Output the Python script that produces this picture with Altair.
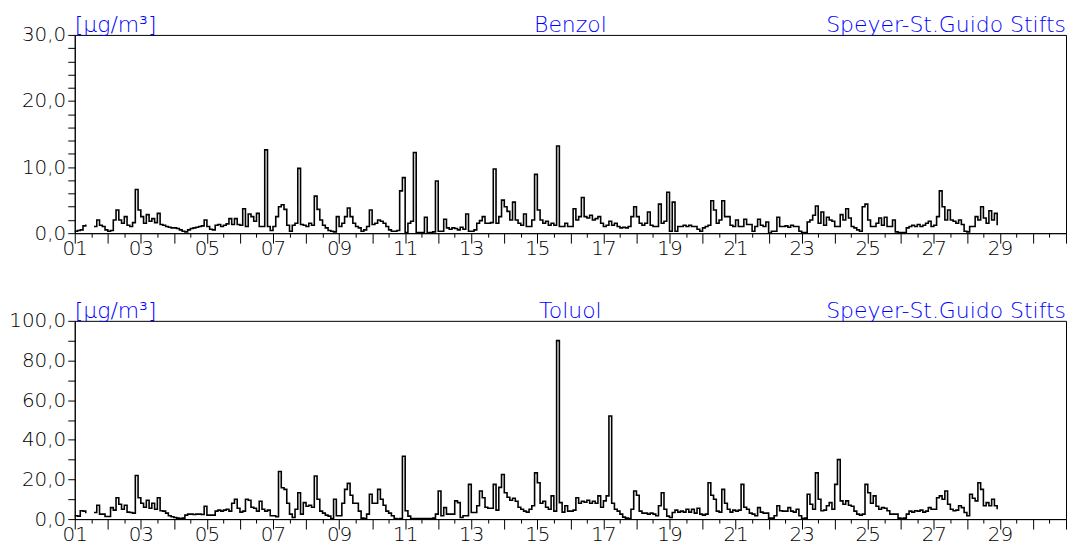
import altair as alt
import pandas as pd

# 2-hour values, 12 per day, starting on day 01 00:00 (None = missing)
STEPS_PER_DAY = 12
FIRST_DAY = 1
DAY_DOMAIN = [1, 31]

benzol = [
    0.3, 0.4, 0.5, 1.1, 1.3, None, None, 1.0, 2.0, 1.2, 1.0, 0.5,   # 01
    0.3, 0.4, 2.0, 3.5, 2.0, 1.5, 2.5, 1.2, 1.0, 1.6, 6.6, 3.5,     # 02
    2.5, 1.5, 2.8, 1.8, 2.2, 1.6, 3.0, 1.3, 1.2, 1.0, 0.9, 0.8,     # 03
    0.8, 0.7, 0.5, 0.3, 0.2, 0.5, 0.7, 0.8, 0.9, 1.0, 1.1, 2.0,     # 04
    1.0, 0.6, 0.5, 1.2, 1.3, 1.0, 1.2, 1.4, 2.2, 1.3, 2.2, 1.3,     # 05
    1.2, 3.7, 1.0, 2.9, 2.5, 1.8, 3.0, 1.0, 1.0, 12.6, 1.0, 0.4,    # 06
    1.0, 2.5, 4.0, 4.3, 3.6, 1.2, 0.3, 1.2, 1.5, 9.8, 1.3, 1.2,     # 07
    1.0, 1.5, 1.2, 5.6, 3.6, 2.0, 1.2, 0.8, 0.4, 0.3, 0.2, 2.5,     # 08
    1.0, 1.5, 2.5, 3.8, 2.5, 1.5, 1.0, 0.8, 0.3, 0.5, 1.0, 3.5,     # 09
    1.3, 1.5, 2.0, 1.8, 1.5, 1.0, 0.5, 0.3, 0.3, 0.4, 6.4, 8.4,     # 10
    0.1, 1.5, 1.8, 12.2, 0.1, 0.1, 0.1, 2.4, 0.1, 0.1, 0.2, 7.9,    # 11
    0.3, 0.3, 2.1, 0.8, 0.6, 0.8, 0.7, 0.5, 0.9, 0.6, 2.9, 0.3,     # 12
    0.3, 0.5, 1.5, 1.9, 2.5, 1.5, 1.5, 1.6, 9.7, 1.5, 2.5, 5.0,     # 13
    4.0, 3.3, 2.0, 4.7, 2.0, 1.5, 1.2, 2.9, 1.0, 1.0, 2.0, 8.9,     # 14
    3.5, 2.0, 1.5, 1.8, 1.2, 1.5, 1.2, 13.2, 1.0, 1.0, 1.5, 1.0,    # 15
    1.0, 3.7, 2.0, 2.5, 5.4, 2.5, 2.3, 2.7, 2.0, 2.2, 2.5, 1.5,     # 16
    1.0, 1.2, 1.8, 1.2, 1.5, 1.0, 0.8, 0.9, 0.8, 1.0, 2.5, 4.0,     # 17
    2.5, 1.5, 1.2, 1.5, 3.2, 1.2, 1.0, 1.0, 4.4, 1.5, 1.8, 6.2,     # 18
    0.3, 4.7, 0.3, 1.0, 1.0, 1.2, 1.0, 1.2, 1.0, 1.0, 0.6, 0.3,     # 19
    0.8, 1.0, 1.2, 4.9, 3.5, 1.5, 2.0, 4.9, 2.5, 2.5, 1.2, 1.0,     # 20
    2.0, 1.0, 1.0, 2.1, 1.3, 1.3, 0.3, 1.0, 2.1, 1.2, 1.0, 1.7,     # 21
    0.0, 0.3, 0.3, 2.4, 1.0, 1.0, 1.1, 0.9, 1.2, 1.0, 1.0, 0.3,     # 22
    0.1, 0.1, 1.7, 2.0, 2.7, 4.1, 1.5, 3.2, 1.2, 2.4, 2.0, 1.8,     # 23
    1.0, 1.0, 2.8, 2.0, 3.7, 2.3, 1.0, 0.8, 0.5, 0.3, 4.0, 4.4,     # 24
    2.0, 1.0, 1.0, 1.5, 2.3, 1.2, 2.4, 1.0, 1.0, 2.0, 0.2, 0.1,     # 25
    0.1, 0.1, 0.8, 1.0, 1.2, 1.0, 1.3, 1.0, 1.2, 1.5, 1.8, 1.0,     # 26
    1.2, 2.5, 6.4, 4.0, 2.0, 3.5, 2.0, 1.8, 1.5, 2.0, 1.3, 0.3,     # 27
    0.2, 1.0, 1.0, 2.5, 2.0, 4.0, 2.3, 1.5, 3.4, 2.0, 3.0, 1.2,     # 28
]

toluol = [
    1.7, 1.5, 4.2, 4.0, 3.0, None, None, 3.3, 7.0, 2.5, 2.5, 1.3,       # 01
    1.3, 5.8, 4.5, 10.8, 7.5, 5.0, 7.0, 3.5, 3.3, 3.0, 22.0, 10.8,      # 02
    8.0, 6.0, 9.5, 5.5, 8.0, 5.0, 10.8, 4.2, 4.0, 3.0, 1.7, 1.2,        # 03
    0.8, 0.5, 0.3, 0.5, 2.0, 2.5, 2.5, 2.3, 2.5, 2.5, 2.3, 6.5,         # 04
    2.0, 2.0, 2.0, 4.0, 4.5, 4.0, 4.5, 5.0, 4.0, 8.0, 10.0, 5.5,        # 05
    3.5, 4.0, 10.0, 9.5, 6.0, 5.5, 4.0, 9.0, 5.0, 4.0, 4.5, 1.7,        # 06
    1.7, 1.2, 24.0, 15.8, 15.0, 8.0, 2.5, 0.8, 5.0, 13.3, 2.5, 8.3,     # 07
    6.5, 7.0, 6.0, 21.7, 10.0, 4.0, 3.0, 2.0, 1.5, 0.3, 10.0, 1.7,      # 08
    1.7, 8.0, 15.0, 18.0, 12.0, 8.0, 8.0, 4.0, 0.5, 0.3, 2.5, 12.5,     # 09
    8.0, 8.0, 15.0, 10.0, 7.0, 4.0, 3.0, 1.7, 0.3, 0.0, 0.3, 31.7,      # 10
    4.2, 1.5, 0.3, 0.3, 0.3, 0.3, 0.3, 0.3, 0.3, 0.3, 0.5, 2.5,         # 11
    14.2, 1.7, 5.8, 2.5, 2.5, 2.5, 9.2, 8.3, 0.8, 1.7, 1.7, 17.5,       # 12
    3.3, 3.3, 6.7, 14.2, 10.8, 6.0, 5.5, 5.5, 17.5, 4.5, 16.0, 22.5,    # 13
    13.3, 11.0, 9.5, 10.5, 9.0, 6.0, 5.0, 4.0, 3.5, 5.0, 6.7, 23.3,     # 14
    18.3, 8.0, 9.0, 6.0, 5.0, 11.7, 4.0, 90.0, 8.3, 3.5, 6.7, 4.0,      # 15
    4.0, 4.5, 10.8, 8.0, 9.0, 8.5, 9.5, 8.0, 9.0, 8.0, 11.7, 6.0,       # 16
    9.2, 11.7, 52.0, 8.0, 5.0, 4.0, 2.5, 1.0, 0.5, 0.3, 5.0, 14.2,      # 17
    12.0, 4.0, 3.0, 3.0, 2.5, 3.0, 2.5, 1.7, 6.7, 13.3, 5.0, 1.5,       # 18
    0.8, 3.3, 4.5, 3.5, 4.0, 3.5, 5.0, 3.5, 5.0, 3.0, 5.5, 2.5,         # 19
    2.0, 2.5, 18.3, 12.0, 10.0, 4.0, 3.5, 15.0, 8.0, 5.0, 3.5, 4.5,     # 20
    4.0, 4.5, 17.5, 6.0, 5.0, 3.0, 2.5, 1.7, 5.8, 3.5, 3.0, 3.0,        # 21
    0.5, 0.5, 1.7, 6.7, 4.2, 4.0, 4.0, 5.8, 4.0, 3.5, 5.0, 1.7,         # 22
    0.3, 0.5, 12.5, 7.5, 5.0, 23.3, 10.0, 4.2, 4.5, 6.7, 8.3, 5.0,      # 23
    17.5, 30.0, 9.2, 7.5, 9.2, 7.0, 6.5, 4.0, 2.5, 2.0, 2.5, 17.5,      # 24
    13.3, 8.0, 11.7, 6.5, 5.0, 5.8, 5.5, 4.2, 2.5, 2.5, 2.5, 0.5,       # 25
    0.3, 0.5, 2.5, 4.0, 3.5, 4.2, 4.0, 4.5, 3.5, 4.0, 5.8, 5.0,         # 26
    5.0, 10.8, 11.7, 10.0, 14.2, 7.5, 5.0, 4.2, 4.5, 6.7, 5.8, 3.3,     # 27
    1.7, 12.5, 10.5, 9.2, 18.3, 15.0, 6.7, 8.3, 6.7, 10.0, 6.7, 5.0,    # 28
]

UNIT = "[µg/m³]"
STATION = "Speyer-St.Guido Stifts"
SUBSTANCES = ["Benzol", "Toluol"]
Y_MAX = [30, 100]
Y_MINOR = [2, 10]
Y_LABEL_EVERY = [10, 20]

X_TICKS = [1 + 0.5 * k for k in range(61)]

W, H = 995, 199
FONT = "DejaVu Sans"
BLUE = "#0000ff"


def panel(values, name, ymax, yminor, ylabel):
    df = pd.DataFrame({
        "t": [FIRST_DAY + i / STEPS_PER_DAY for i in range(len(values))],
        "v": values,
    })
    line = alt.Chart(df).mark_line(
        interpolate="step-after", color="black", strokeWidth=1.6,
        invalid="break-paths-filter-domains",
    ).encode(
        x=alt.X("t:Q", scale=alt.Scale(domain=DAY_DOMAIN, nice=False, zero=False),
                axis=alt.Axis(
                    values=X_TICKS, title=None, grid=False,
                    labelExpr="datum.value % 2 == 1 && datum.value < 30 ? (datum.value < 10 ? '0' : '') + datum.value : ''",
                    labelFlush=False, labelOverlap=False,
                    tickSize={"condition": {"test": "datum.value % 1 == 0", "value": 10}, "value": 4},
                    labelPadding=-5, labelFont=FONT, labelFontSize=20, labelFontWeight=300,
                    labelColor="black", domainColor="black", tickColor="black",
                )),
        y=alt.Y("v:Q", scale=alt.Scale(domain=[0, ymax], nice=False),
                axis=alt.Axis(
                    values=list(range(0, ymax + 1, yminor)), title=None, grid=False,
                    labelExpr=f"datum.value % {ylabel} == 0 ? replace(format(datum.value, '.1f'), '.', ',') : ''",
                    tickSize=7, labelPadding=2, labelFont=FONT, labelFontSize=20,
                    labelFontWeight=300, labelColor="black",
                    domainColor="black", tickColor="black", labelOverlap=False,
                )),
    )

    def txt(s, align, xpos):
        return alt.Chart(pd.DataFrame({"s": [s]})).mark_text(
            align=align, baseline="alphabetic", font=FONT, fontSize=22,
            color=BLUE, fontWeight=300,
        ).encode(x=alt.value(xpos), y=alt.value(-3), text="s:N")

    return alt.layer(
        line,
        txt(UNIT, "left", 0),
        txt(name, "center", W / 2),
        txt(STATION, "right", W),
    ).properties(width=W, height=H)


top = panel(benzol, SUBSTANCES[0], Y_MAX[0], Y_MINOR[0], Y_LABEL_EVERY[0])
bottom = panel(toluol, SUBSTANCES[1], Y_MAX[1], Y_MINOR[1], Y_LABEL_EVERY[1])

chart = alt.vconcat(top, bottom, spacing=40).properties(
    padding={"left": 0, "top": 4, "right": 0, "bottom": 0},
    background="white",
).configure_view(stroke="black", strokeWidth=1)

chart.save("out.html", embed_options={"renderer": "svg", "actions": False})
